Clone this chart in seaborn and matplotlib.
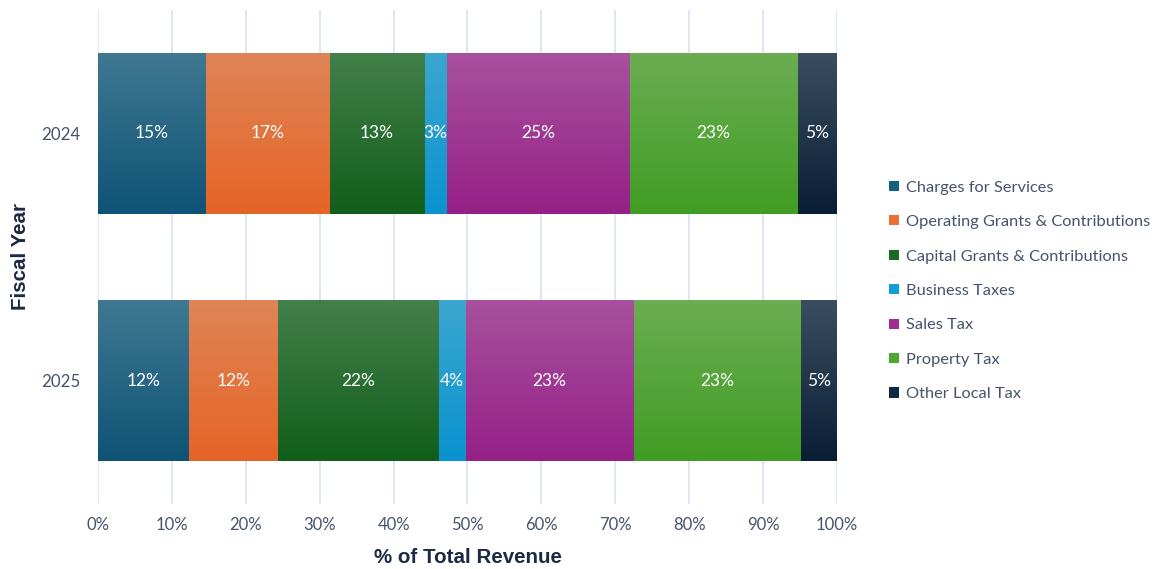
import numpy as np
import pandas as pd
import matplotlib.pyplot as plt
import seaborn as sns
from matplotlib.colors import to_rgb
from matplotlib.patches import Patch

# ── data ──────────────────────────────────────────────
years = ["2024", "2025"]
sources = ["Charges for Services", "Operating Grants & Contributions",
           "Capital Grants & Contributions", "Business Taxes",
           "Sales Tax", "Property Tax", "Other Local Tax"]
share_2024 = [14.6, 16.7, 12.9, 3.0, 24.7, 22.7, 5.4]
share_2025 = [12.3, 12.0, 21.8, 3.6, 22.7, 22.7, 4.9]
colors = ["#156082", "#E97132", "#196B24", "#0F9ED5",
          "#A02B93", "#4EA72E", "#0E2841"]

df = pd.DataFrame({"2024": share_2024, "2025": share_2025}, index=sources)
cum = df.cumsum()

sns.set_theme(style="white")
plt.rcParams["font.family"] = ["Lato", "DejaVu Sans"]

fig = plt.figure(figsize=(11.56, 5.69), dpi=100)
ax = fig.add_axes([98 / 1156, 1 - 504 / 569, (837 - 98) / 1156, 494 / 569])

tick_col = "#44546A"
title_col = "#1B2A44"


def grad_image(c):
    # lighter, greyer top fading into a deeper bottom (Office-style gradient)
    base = np.array(to_rgb(c))
    top = base * 0.75 + 0.25 * 0.75
    bot = base ** 1.15
    t = np.linspace(0, 1, 64)[:, None]
    img = top[None, :] * (1 - t) + bot[None, :] * t
    return np.clip(img, 0, 1)[:, None, :]


# stacked bars: draw cumulative totals from the last series backwards
for i in range(len(sources) - 1, -1, -1):
    name = sources[i]
    layer = pd.DataFrame({"year": years, "value": cum.loc[name, years].values})
    n0 = len(ax.patches)
    sns.barplot(data=layer, x="value", y="year", orient="y", color=colors[i],
                saturation=1, width=0.65, ax=ax, zorder=2 + (7 - i) * 0.1)
    img = grad_image(colors[i])
    for p in ax.patches[n0:]:
        x0, y0 = p.get_x(), p.get_y()
        w, h = p.get_width(), p.get_height()
        p.set_edgecolor("none")
        im = ax.imshow(img, extent=(x0, x0 + w, y0 + h, y0), origin="upper",
                       aspect="auto", zorder=p.get_zorder() + 0.05)
        im.set_clip_path(p)

# segment labels
for j, yr in enumerate(years):
    for name in sources:
        v = df.loc[name, yr]
        ax.text(cum.loc[name, yr] - v / 2, j, f"{v:.0f}%", ha="center",
                va="center", color="white", fontsize=12.5, zorder=10)

ax.set_xlim(0, 100)
ax.set_ylim(1.5, -0.5)
ax.set_xticks(np.arange(0, 101, 10))
ax.set_xticklabels([f"{t}%" for t in range(0, 101, 10)])
ax.grid(axis="x", color="#D5E3F3", linewidth=1.2, zorder=0)
ax.grid(axis="y", visible=False)
ax.set_axisbelow(True)
for s in ax.spines.values():
    s.set_visible(False)
ax.tick_params(axis="x", length=0, pad=9, labelsize=12, labelcolor=tick_col)
ax.tick_params(axis="y", length=0, pad=13, labelsize=12.2, labelcolor=tick_col)

ax.set_xlabel("% of Total Revenue", fontsize=14.8, fontweight="bold",
              color=title_col, family="Liberation Sans", labelpad=11)
ax.set_ylabel("Fiscal Year", fontsize=14.8, fontweight="bold",
              color=title_col, family="Liberation Sans", labelpad=8)

handles = [Patch(facecolor=c, edgecolor="none") for c in colors]
fig.legend(handles, sources, loc="center left",
           bbox_to_anchor=(874 / 1156, 1 - 291 / 569), frameon=False,
           fontsize=11.8, labelcolor=tick_col, handlelength=0.6,
           handleheight=0.6, handletextpad=0.45, labelspacing=1.25)

plt.savefig("out.png", dpi=100)
